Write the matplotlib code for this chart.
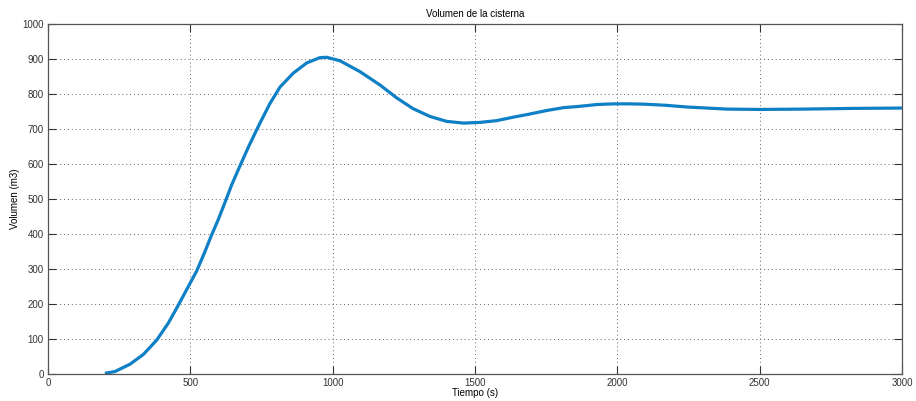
import numpy as np
import matplotlib
matplotlib.use("Agg")
import matplotlib.pyplot as plt

plt.rcParams['font.family'] = ['Liberation Sans', 'DejaVu Sans']

# values (tiempo in s, volumen in m3)
tiempo = [200, 235, 288, 335, 382, 423, 458, 489, 522, 548, 573, 598, 622, 645,
          674, 706, 744, 779, 815, 862, 909, 955, 979, 1026, 1096, 1166, 1225,
          1283, 1342, 1400, 1459, 1518, 1576, 1635, 1693, 1752, 1810, 1869, 1927,
          1986, 2040, 2098, 2168, 2244, 2314, 2385, 2502, 2654, 2830, 3000]
volumen = [2, 7, 28, 56, 97, 146, 197, 244, 294, 343, 394, 441, 491, 540,
           594, 652, 716, 772, 820, 860, 889, 904, 905, 895, 864, 826, 789,
           758, 736, 722, 717, 719, 724, 734, 743, 753, 761, 765, 770,
           772, 772, 771, 768, 763, 760, 757, 756, 757, 759, 760]

xticks = [0, 500, 1000, 1500, 2000, 2500, 3000]
yticks = list(range(0, 1001, 100))

fig = plt.figure(figsize=(9.16, 4.01), dpi=100)
ax = fig.add_axes([0.0524, 0.0673, 0.9323, 0.8727])

ax.plot(tiempo, volumen, color='#0f7fc6', linewidth=2.3, solid_capstyle='butt')

ax.set_xlim(0, 3000)
ax.set_ylim(0, 1000)
ax.set_xticks(xticks)
ax.set_yticks(yticks)
ax.tick_params(direction='in', length=6, width=0.8, labelsize=7, colors='#333333',
               top=True, right=True, pad=3)
ax.grid(True, linestyle=(0, (1, 3)), color='#666666', linewidth=0.7)
for s in ax.spines.values():
    s.set_color('#555555')
    s.set_linewidth(0.9)

ax.set_title('Volumen de la cisterna', fontsize=7, pad=5)
ax.set_xlabel('Tiempo (s)', fontsize=7, labelpad=0)
ax.set_ylabel('Volumen (m3)', fontsize=7, labelpad=2)

fig.savefig('out.png', dpi=100)
